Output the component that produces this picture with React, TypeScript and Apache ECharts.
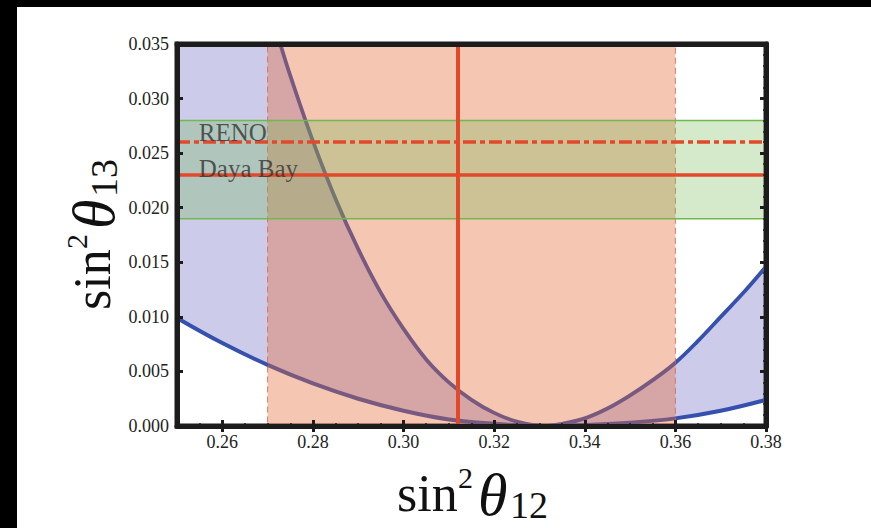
import React, { useEffect, useRef } from "react";
import * as echarts from "echarts";

// ---- data ----
const xRange = [0.25, 0.38];
const yRange = [0, 0.035];
const xLabelValues = [0.26, 0.28, 0.3, 0.32, 0.34, 0.36, 0.38];

// lower (shallow) boundary curve
const curveBX = [0.25, 0.26, 0.27, 0.28, 0.29, 0.3, 0.31, 0.32, 0.33, 0.34, 0.35, 0.36, 0.37, 0.38];
const curveBY = [0.0099, 0.0076, 0.0056, 0.0039, 0.0025, 0.0014, 0.0006, 0.0002, 0.0, 0.0001, 0.0003, 0.0007, 0.0014, 0.0024];

// upper (steep) boundary curve
const curveAX = [0.2728, 0.275, 0.28, 0.285, 0.29, 0.295, 0.3, 0.305, 0.31, 0.315, 0.32, 0.325, 0.331, 0.335, 0.34, 0.345, 0.35, 0.355, 0.36, 0.365, 0.37, 0.375, 0.38];
const curveAY = [0.035, 0.0321, 0.0261, 0.0208, 0.0162, 0.0122, 0.0089, 0.0061, 0.004, 0.0024, 0.0012, 0.0004, 0.0, 0.0002, 0.0007, 0.0016, 0.0028, 0.0042, 0.0058, 0.0078, 0.01, 0.0122, 0.0146];

// bands and reference lines
const theta12Band = [0.27, 0.36];
const theta12Best = 0.312;
const theta13Band = [0.019, 0.028];
const renoValue = 0.026;
const dayaBayValue = 0.023;
const labelNames = ["RENO", "Daya Bay"];
const labelX = [0.2548, 0.2548];
const labelY = [0.02685, 0.02359];

const SERIF = "'Liberation Serif', 'Times New Roman', serif";
const RED = "#e2492b";
const BLUE = "#3650ae";
const FRAME = "#1c1c1c";

function titleParts(sub: string) {
  return [
    { type: "text", x: 0, y: -0.34 * 52, style: { text: "sin", font: `52px ${SERIF}`, fill: "#111", verticalAlign: "middle", align: "left" } },
    { type: "text", x: 61, y: -23 - 0.34 * 30, style: { text: "2", font: `30px ${SERIF}`, fill: "#111", verticalAlign: "middle", align: "left" } },
    { type: "text", x: 81, y: 4 - 0.34 * 60, style: { text: "θ", font: `italic 60px ${SERIF}`, fill: "#111", verticalAlign: "middle", align: "left" } },
    { type: "text", x: 113, y: 7 - 0.34 * 38, style: { text: sub, font: `38px ${SERIF}`, fill: "#111", verticalAlign: "middle", align: "left" } },
  ];
}

export default function App() {
  const ref = useRef<HTMLDivElement>(null);
  useEffect(() => {
    if (!ref.current) return;
    const chart = echarts.init(ref.current, null, { renderer: "svg" });
    const lower = curveBX.map((x, i) => [x, curveBY[i]]);
    const upperLine = curveAX.map((x, i) => [x, curveAY[i]]);
    const upper = upperLine.slice().reverse();
    upper.push([xRange[0], yRange[1]]);

    const baseX = {
      type: "value",
      min: xRange[0],
      max: xRange[1],
      interval: 0.005,
      z: 10,
      splitLine: { show: false },
    };
    const baseY = {
      type: "value",
      min: yRange[0],
      max: yRange[1],
      interval: 0.005,
      z: 10,
      splitLine: { show: false },
    };
    const labelStyle = { fontSize: 18, fontFamily: SERIF, color: "#222" };

    chart.setOption({
      animation: false,
      backgroundColor: "#fff",
      grid: { left: 177, top: 44, width: 589, height: 382, show: true, borderColor: FRAME, borderWidth: 5, backgroundColor: "#fff" },
      xAxis: [
        {
          ...baseX,
          position: "bottom",
          axisLine: { show: true, onZero: false, lineStyle: { color: FRAME, width: 5 } },
          axisTick: { show: true, inside: true, length: 3, lineStyle: { color: FRAME, width: 1.5 } },
          axisLabel: { show: true, customValues: xLabelValues, formatter: (v: number) => v.toFixed(2), margin: 7, ...labelStyle },
        },
        {
          ...baseX,
          position: "top",
          axisLine: { show: true, onZero: false, lineStyle: { color: FRAME, width: 5 } },
          axisTick: { show: true, inside: true, length: 3, lineStyle: { color: FRAME, width: 1.5 } },
          axisLabel: { show: false },
        },
        {
          ...baseX,
          position: "bottom",
          axisLine: { show: false },
          axisTick: { show: true, inside: true, length: 6, customValues: xLabelValues, lineStyle: { color: FRAME, width: 3 } },
          axisLabel: { show: false },
        },
        {
          ...baseX,
          position: "top",
          axisLine: { show: false },
          axisTick: { show: true, inside: true, length: 6, customValues: xLabelValues, lineStyle: { color: FRAME, width: 3 } },
          axisLabel: { show: false },
        },
      ],
      yAxis: [
        {
          ...baseY,
          position: "left",
          axisLine: { show: true, onZero: false, lineStyle: { color: FRAME, width: 5 } },
          axisTick: { show: true, inside: true, length: 6, lineStyle: { color: FRAME, width: 3 } },
          minorTick: { show: true, splitNumber: 5, length: 3, lineStyle: { color: FRAME, width: 1.5 } },
          axisLabel: { show: true, formatter: (v: number) => v.toFixed(3), margin: 8, ...labelStyle },
        },
        {
          ...baseY,
          position: "right",
          axisLine: { show: true, onZero: false, lineStyle: { color: FRAME, width: 5 } },
          axisTick: { show: true, inside: true, length: 6, lineStyle: { color: FRAME, width: 3 } },
          minorTick: { show: true, splitNumber: 5, length: 3, lineStyle: { color: FRAME, width: 1.5 } },
          axisLabel: { show: false },
        },
      ],
      series: [
        {
          type: "custom",
          z: 1,
          clip: true,
          silent: true,
          data: [[xRange[0], yRange[0]]],
          renderItem: (params: any, api: any) => {
            const pts = [...lower, ...upper].map((p) => api.coord(p));
            return { type: "polygon", shape: { points: pts }, style: { fill: "rgba(100,100,192,0.33)" } };
          },
        },
        {
          type: "line",
          z: 2,
          data: lower,
          smooth: 0.4,
          symbol: "none",
          clip: true,
          lineStyle: { color: BLUE, width: 4 },
        },
        {
          type: "line",
          z: 2,
          data: upperLine,
          smooth: 0.4,
          symbol: "none",
          clip: true,
          lineStyle: { color: BLUE, width: 3.8 },
        },
        {
          type: "line",
          z: 3,
          data: [],
          markArea: {
            z: 3,
            silent: true,
            itemStyle: { color: "rgba(229,105,53,0.38)", borderColor: "rgba(210,105,85,0.85)", borderWidth: 1, borderType: [6, 4] },
            data: [[{ xAxis: theta12Band[0] }, { xAxis: theta12Band[1] }]],
          },
        },
        {
          type: "line",
          z: 4,
          data: [],
          markArea: {
            z: 4,
            silent: true,
            itemStyle: { color: "rgba(112,185,82,0.3)", borderColor: "#72b84f", borderWidth: 1.5 },
            data: [[{ yAxis: theta13Band[0] }, { yAxis: theta13Band[1] }]],
          },
        },
        {
          type: "line",
          z: 5,
          data: [],
          markLine: {
            z: 5,
            silent: true,
            precision: 4,
            symbol: ["none", "none"],
            label: { show: false },
            data: [
              { yAxis: dayaBayValue, lineStyle: { color: RED, width: 3.5, type: "solid" } },
              { yAxis: renoValue, lineStyle: { color: RED, width: 3.5, type: [13, 4, 5, 4] } },
              { xAxis: theta12Best, lineStyle: { color: RED, width: 4, type: "solid" } },
            ],
          },
        },
        {
          type: "scatter",
          z: 6,
          symbolSize: 0,
          silent: true,
          data: labelNames.map((n, i) => ({ name: n, value: [labelX[i], labelY[i]] })),
          label: {
            show: true,
            position: "right",
            distance: 0,
            formatter: (p: any) => p.name,
            fontFamily: SERIF,
            fontSize: 25,
            color: "#333",
          },
        },
      ],
      graphic: [
        { type: "rect", shape: { x: 0, y: 0, width: 871, height: 7 }, style: { fill: "#000" }, z: 100 },
        { type: "rect", shape: { x: 0, y: 0, width: 17, height: 528 }, style: { fill: "#000" }, z: 100 },
        { type: "group", x: 397, y: 511, children: titleParts("12") },
        { type: "group", x: 110, y: 310, rotation: Math.PI / 2, children: titleParts("13") },
      ],
    });
    return () => chart.dispose();
  }, []);
  return <div ref={ref} style={{ position: "fixed", left: 0, top: 0, width: 871, height: 528 }} />;
}
